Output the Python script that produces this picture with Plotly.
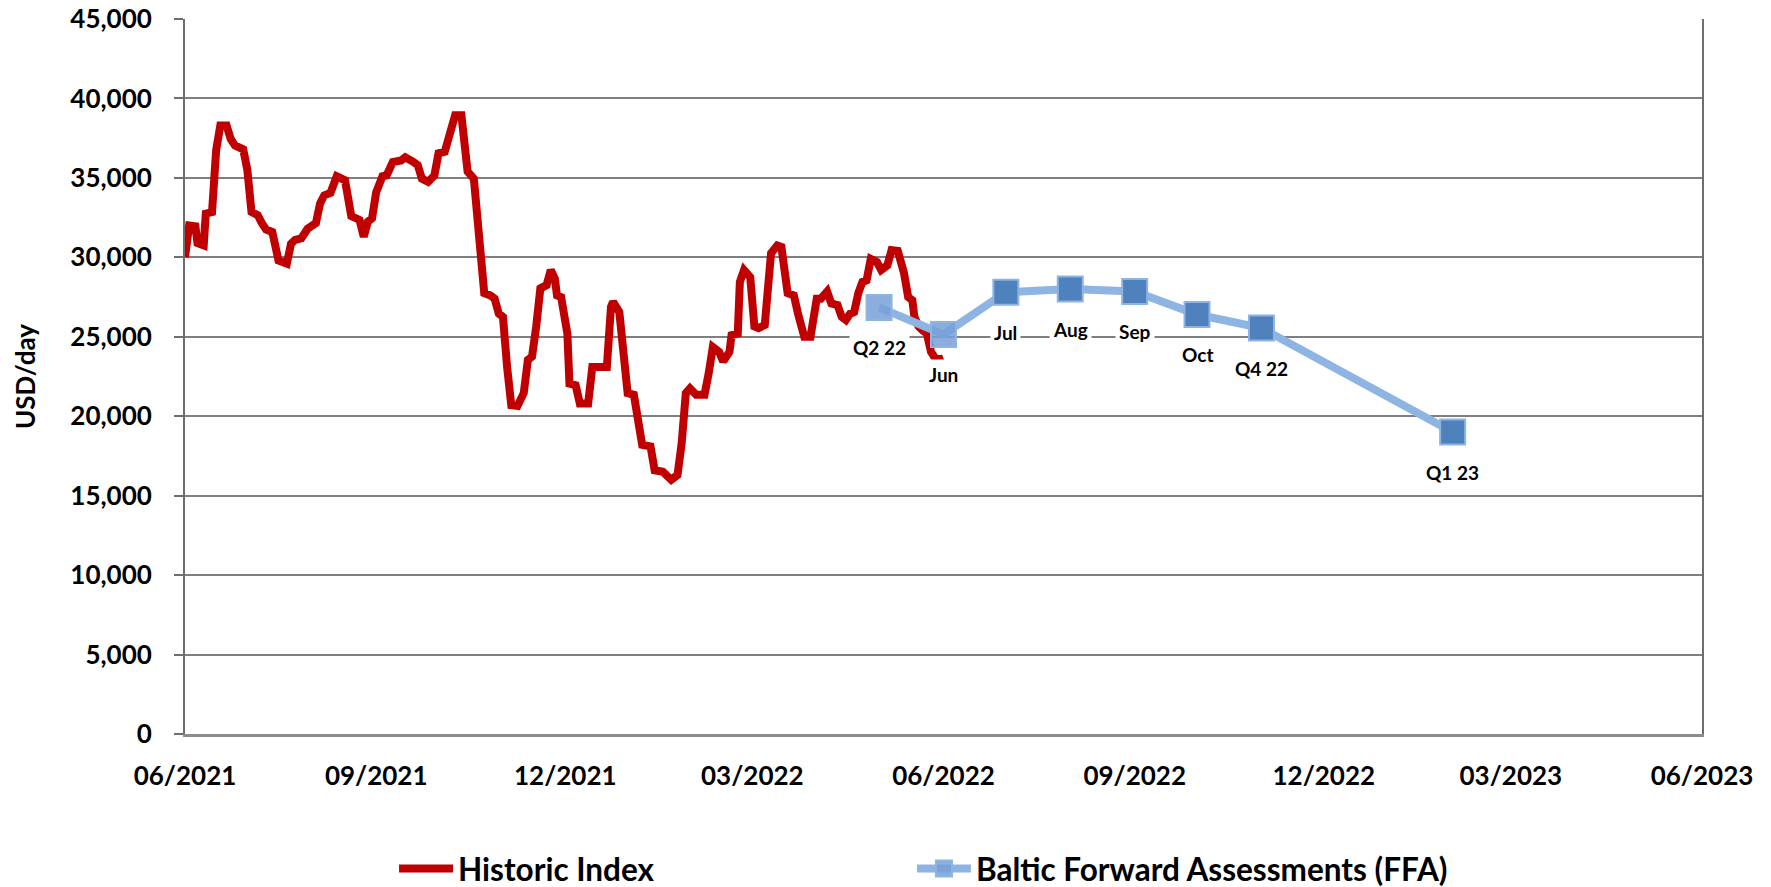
import plotly.graph_objects as go

# ---------------- data ----------------
hist_dates = [
    "2021-06-01", "2021-06-03", "2021-06-06", "2021-06-07", "2021-06-10", "2021-06-11", "2021-06-14",
    "2021-06-16", "2021-06-18", "2021-06-21", "2021-06-23", "2021-06-25", "2021-06-29",
    "2021-07-01", "2021-07-03", "2021-07-06", "2021-07-08", "2021-07-10", "2021-07-13", "2021-07-16",
    "2021-07-20", "2021-07-22", "2021-07-24", "2021-07-27", "2021-07-30",
    "2021-08-03", "2021-08-05", "2021-08-07", "2021-08-10", "2021-08-13", "2021-08-17", "2021-08-19",
    "2021-08-20", "2021-08-24", "2021-08-26", "2021-08-28", "2021-08-30",
    "2021-09-01", "2021-09-04", "2021-09-06", "2021-09-09", "2021-09-13", "2021-09-15", "2021-09-19",
    "2021-09-21", "2021-09-23", "2021-09-26", "2021-09-29",
    "2021-10-01", "2021-10-04", "2021-10-07", "2021-10-09", "2021-10-12", "2021-10-15", "2021-10-18",
    "2021-10-19", "2021-10-21", "2021-10-23", "2021-10-26", "2021-10-28", "2021-10-30",
    "2021-11-01", "2021-11-03", "2021-11-05", "2021-11-08", "2021-11-11", "2021-11-13", "2021-11-15",
    "2021-11-17", "2021-11-19", "2021-11-22", "2021-11-24", "2021-11-26", "2021-11-27", "2021-11-29",
    "2021-12-02", "2021-12-03", "2021-12-06", "2021-12-08", "2021-12-12", "2021-12-14", "2021-12-21",
    "2021-12-23", "2021-12-24", "2021-12-27", "2021-12-29", "2021-12-31",
    "2022-01-03", "2022-01-05", "2022-01-07", "2022-01-11", "2022-01-13", "2022-01-17", "2022-01-21",
    "2022-01-24", "2022-01-26", "2022-01-28", "2022-01-30",
    "2022-02-02", "2022-02-06", "2022-02-08", "2022-02-10", "2022-02-13", "2022-02-15", "2022-02-18",
    "2022-02-19", "2022-02-22", "2022-02-23", "2022-02-25", "2022-02-28",
    "2022-03-02", "2022-03-04", "2022-03-07", "2022-03-08", "2022-03-10", "2022-03-13", "2022-03-15",
    "2022-03-18", "2022-03-21", "2022-03-23", "2022-03-26", "2022-03-29", "2022-03-30",
    "2022-04-01", "2022-04-03", "2022-04-06", "2022-04-08", "2022-04-11", "2022-04-13", "2022-04-15",
    "2022-04-17", "2022-04-19", "2022-04-21", "2022-04-23", "2022-04-25", "2022-04-27", "2022-04-30",
    "2022-05-02", "2022-05-05", "2022-05-07", "2022-05-10", "2022-05-13", "2022-05-15", "2022-05-17",
    "2022-05-18", "2022-05-20", "2022-05-22", "2022-05-24", "2022-05-26", "2022-05-28", "2022-05-30",
    "2022-06-01",
]
hist_values = [
    30000, 32000, 31950, 30900, 30750, 32750, 32850, 36750, 38300, 38300, 37450, 37050, 36800,
    35500, 32850, 32650, 32150, 31750, 31600, 29800, 29600, 30850, 31100, 31200, 31800,
    32150, 33400, 33900, 34050, 35100, 34850, 33400, 32600, 32350, 31300, 32250, 32450,
    34100, 35100, 35150, 36000, 36100, 36300, 36000, 35800, 34950, 34750, 35150,
    36550, 36650, 37900, 38950, 38950, 35400, 34950, 33600, 29800, 27750, 27600, 27400, 26450,
    26250, 23100, 20700, 20650, 21450, 23550, 23750, 25650, 28050, 28250, 29200, 28650, 27600, 27500,
    25200, 22050, 21950, 20800, 20800, 23100, 23100, 26900, 27200, 26550, 23950, 21450,
    21350, 19750, 18200, 18100, 16600, 16500, 16000, 16300, 18300, 21450, 21750,
    21350, 21350, 22700, 24350, 24050, 23450, 24050, 25100, 25200, 28450, 29200, 28750,
    25650, 25550, 25750, 26900, 30250, 30750, 30650, 27750, 27600, 26450, 25000, 25000, 26150,
    27400, 27400, 27850, 27100, 27000, 26250, 26050, 26450, 26550, 27750, 28450, 28550, 29900, 29700,
    29200, 29500, 30450, 30400, 29000, 27500, 27300, 26250, 25650, 25400, 25200, 24050, 23650, 23550,
    23650,
]

ffa_labels = ["Q2 22", "Jun", "Jul", "Aug", "Sep", "Oct", "Q4 22", "Q1 23"]
ffa_dates = ["2022-05-01", "2022-06-01", "2022-07-01", "2022-08-01", "2022-09-01",
             "2022-10-01", "2022-11-01", "2023-02-01"]
ffa_values = [26850, 25150, 27800, 28000, 27850, 26400, 25550, 19000]

x_tick_dates = ["2021-06-01", "2021-09-01", "2021-12-01", "2022-03-01", "2022-06-01",
                "2022-09-01", "2022-12-01", "2023-03-01", "2023-06-01"]
x_tick_labels = ["06/2021", "09/2021", "12/2021", "03/2022", "06/2022",
                 "09/2022", "12/2022", "03/2023", "06/2023"]
y_ticks = [0, 5000, 10000, 15000, 20000, 25000, 30000, 35000, 40000, 45000]

# ---------------- styles ----------------
FONT = "Lato, 'Open Sans', sans-serif"
RED = "#C00000"
LIGHT_BLUE = "#8DB4E2"
DARK_BLUE = "#4F81BD"
GRID = "#7F7F7F"

marker_fill = ["rgba(120,160,215,0.85)", "rgba(120,160,215,0.85)"] + [DARK_BLUE] * (len(ffa_values) - 2)
legend_font = dict(family=FONT, size=31.5, color="black", weight="bold")

fig = go.Figure()
fig.add_trace(go.Scatter(
    x=hist_dates, y=hist_values, mode="lines", name="Historic Index",
    line=dict(color=RED, width=8), legend="legend",
))
fig.add_trace(go.Scatter(
    x=ffa_dates, y=ffa_values, mode="lines+markers", name="Baltic Forward Assessments (FFA)",
    line=dict(color=LIGHT_BLUE, width=8),
    marker=dict(symbol="square", size=25, color=marker_fill,
                line=dict(color=LIGHT_BLUE, width=2)),
    legend="legend2",
))

for lab, d, v in zip(ffa_labels, ffa_dates, ffa_values):
    fig.add_annotation(
        x=d, y=v, text=lab, showarrow=False, yshift=-40, yanchor="middle",
        bgcolor="white", borderpad=3,
        font=dict(family=FONT, size=19, color="black", weight="bold"),
    )

fig.update_layout(
    width=1771, height=887,
    margin=dict(l=185, r=69, t=19, b=153, autoexpand=False),
    paper_bgcolor="white", plot_bgcolor="white",
    font=dict(family=FONT, size=26, color="black", weight="bold"),
    showlegend=True,
    legend=dict(
        orientation="h", x=0.1378, y=-0.188, xanchor="left", yanchor="middle",
        font=legend_font, itemwidth=54, bgcolor="rgba(0,0,0,0)",
    ),
    legend2=dict(
        orientation="h", x=0.4792, y=-0.188, xanchor="left", yanchor="middle",
        font=legend_font, itemwidth=54, bgcolor="rgba(0,0,0,0)",
    ),
)

fig.update_xaxes(
    type="date", range=["2021-06-01", "2023-06-01"],
    tickvals=x_tick_dates, ticktext=x_tick_labels,
    showgrid=False, showline=True, linecolor="#8C8C8C", linewidth=3,
    ticks="", ticklabelstandoff=17, zeroline=False, automargin=False,
    tickfont=dict(family=FONT, size=26, color="black", weight="bold"),
)
fig.update_yaxes(
    range=[0, 45000], tickvals=y_ticks, tickformat=",",
    showgrid=True, gridcolor=GRID, gridwidth=1.5,
    showline=True, linecolor="#6E6E6E", linewidth=2, mirror=True,
    ticks="outside", ticklen=9, tickcolor="#6E6E6E", tickwidth=1.5,
    ticklabelstandoff=17, zeroline=False, automargin=False,
    tickfont=dict(family=FONT, size=26, color="black", weight="bold"),
    title=dict(text="USD/day", standoff=27,
               font=dict(family=FONT, size=26, color="black", weight="bold")),
)

fig.write_html("out.html", config={"displayModeBar": False},
               post_script="document.body.style.margin='0';")
